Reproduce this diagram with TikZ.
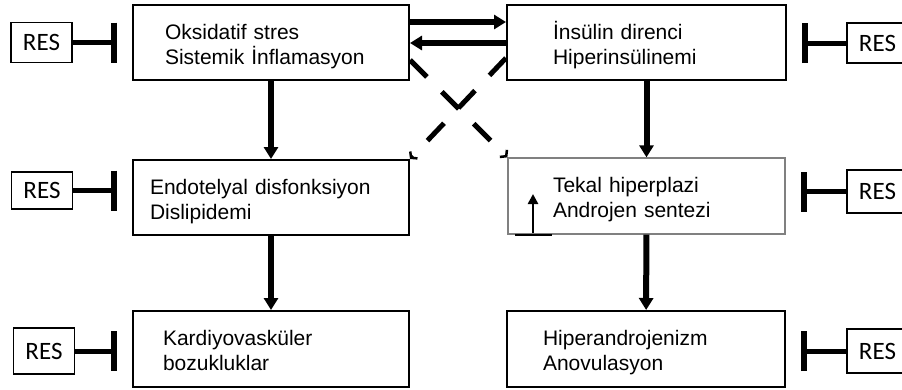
\documentclass[tikz,border=0pt]{standalone}
\usepackage{fontspec}
\setmainfont{Liberation Sans}
\newfontfamily\resfont{Carlito}
\usetikzlibrary{arrows.meta}

\tikzset{
  kutu/.style={draw, line width=2pt, minimum width=276pt, minimum height=75pt,
    inner xsep=0pt, text width=#1, text height=23pt, text depth=30pt,
    align=left, font=\fontsize{21}{25}\selectfont},
  res/.style={draw, line width=1.5pt, minimum width=61pt, minimum height=40pt,
    inner sep=0pt, font=\resfont\fontsize{25}{25}\selectfont},
  ket/.style={line width=5pt, -{Bar[width=40pt,line width=6pt]}, shorten >=15pt},
  ok/.style={line width=6pt, -{Triangle[length=12pt,width=14pt]}},
  kesik/.style={line width=5pt, dash pattern=on 24pt off 21pt,
    -{Straight Barb[length=4pt,width=10pt,line width=2.5pt]}}
}

\begin{document}
\begin{tikzpicture}[x=1pt, y=-1pt]
    \useasboundingbox (0,0) rectangle (902,389);

    % Left column
    \node[kutu=212pt] (oks) at (271,42.5) {Oksidatif stres\\Sistemik İnflamasyon};
    \node[kutu=242pt] (endo) at (271,197.5) {Endotelyal disfonksiyon\\Dislipidemi};
    \node[kutu=216pt, minimum height=76pt] (kar) at (271,349) {Kardiyovasküler\\bozukluklar};

    % Right column
    \node[kutu=187pt, minimum width=279pt] (ins) at (646.5,42.5) {İnsülin direnci\\Hiperinsülinemi};
    \node[kutu=187pt, minimum width=277pt, minimum height=76pt, draw=gray, line width=1.3pt] (tek) at (646.5,196) {Tekal hiperplazi\\Androjen sentezi};
    \node[kutu=206pt, minimum width=278pt, minimum height=76pt] (hip) at (646,349) {Hiperandrojenizm\\Anovulasyon};

    % RES boxes
    \node[res] (r1) at (41.5,42.5) {RES};
    \node[res, minimum height=37pt] (r2) at (42,190.5) {RES};
    \node[res, minimum height=46pt] (r3) at (44,351) {RES};
    \node[res] (r4) at (877.5,43) {RES};
    \node[res, minimum height=43pt] (r5) at (877.5,191.5) {RES};
    \node[res, minimum height=44pt] (r6) at (877.5,351) {RES};

    % Inhibition
    \draw[ket] (r1) -- (r1 -| oks.west);
    \draw[ket] (r2) -- (r2 -| endo.west);
    \draw[ket] (r3) -- (r3 -| kar.west);
    \draw[ket] (r4) -- (r4 -| ins.east);
    \draw[ket] (r5) -- (r5 -| tek.east);
    \draw[ket] (r6) -- (r6 -| hip.east);

    % Main arrows
    \draw[ok] (oks) -- (endo);
    \draw[ok] (endo) -- (kar);
    \draw[ok] (ins) -- (tek);
    \draw[ok] (tek) -- (hip);
    \draw[ok] ([yshift=20.5pt]oks.east) -- ([yshift=20.5pt]ins.west);
    \draw[ok] ([yshift=-0.5pt]ins.west) -- ([yshift=-0.5pt]oks.east);

    % Crossing dashed arrows
    \draw[kesik] ([yshift=-17.5pt]oks.east) -- (tek.north west);
    \draw[kesik] ([yshift=-15.5pt]ins.west) -- (endo.north east);

    % Up arrow in Tekal box
    \coordinate (taban) at (533,233);
    \draw[line width=2.5pt, -{Triangle[length=10pt,width=10pt]}] (taban) -- ++(0,-39);
    \draw[line width=1.5pt] (515,235) -- (552,235);
\end{tikzpicture}
\end{document}
